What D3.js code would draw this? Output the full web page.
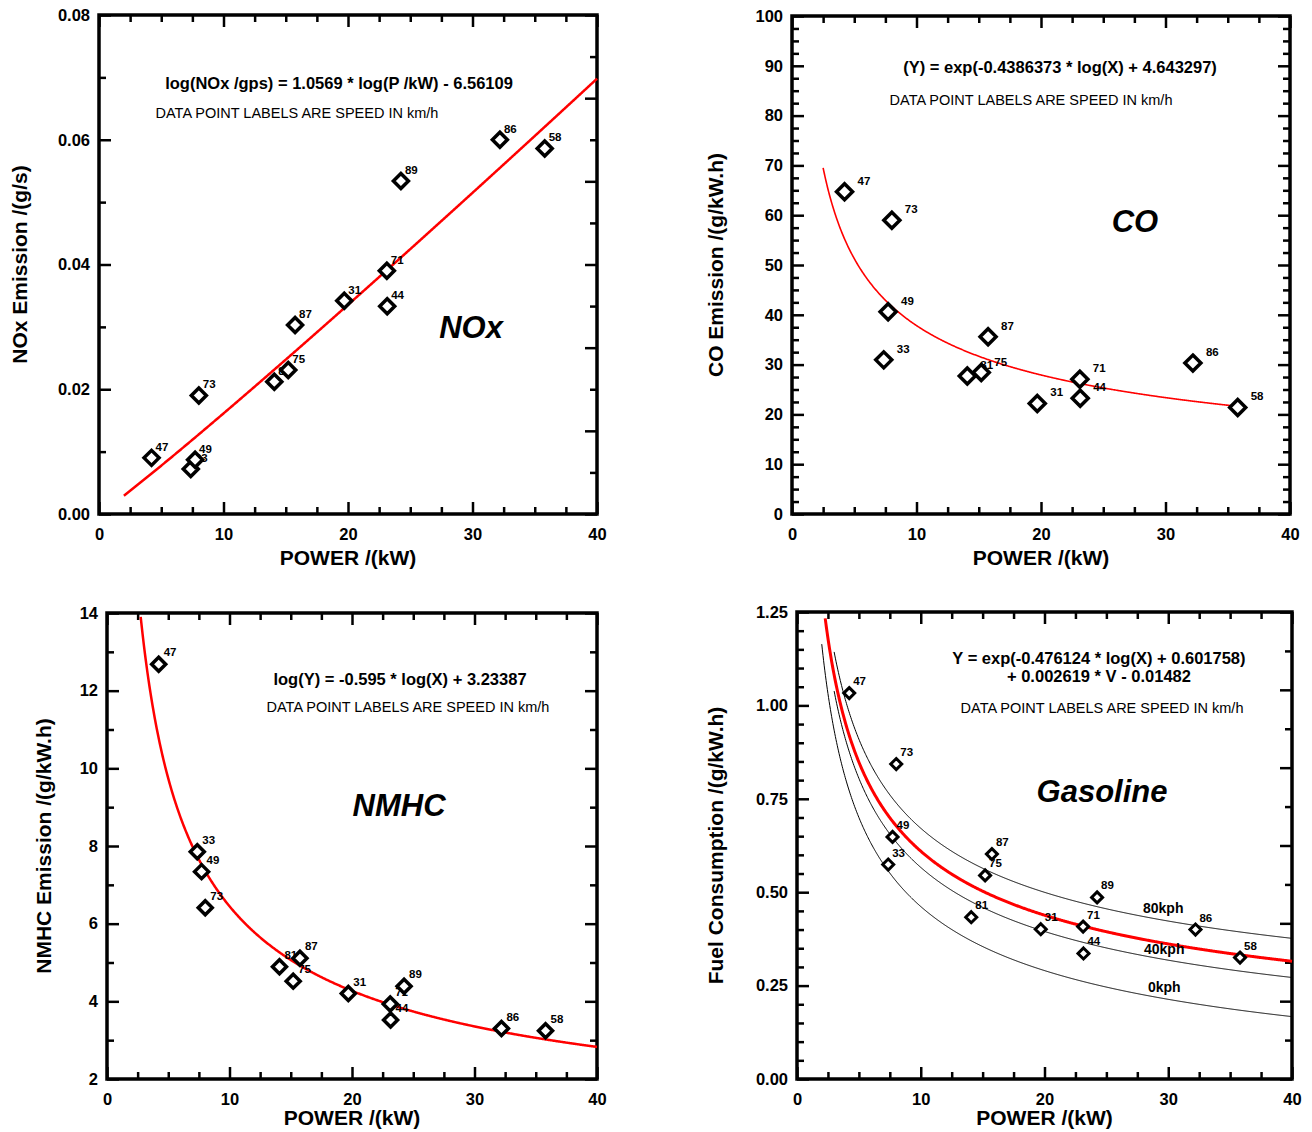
<!DOCTYPE html>
<html><head><meta charset="utf-8">
<script src="https://cdn.jsdelivr.net/npm/d3@7"></script>
<style>
body{margin:0;background:#fff;}
svg{display:block;}
text{font-family:"Liberation Sans",Arial,Helvetica,sans-serif;fill:#000;}
</style>
</head><body>
<svg id="chart" width="1312" height="1132"></svg>
<script>
// ---------- DATA ----------
const speeds = ["47","33","49","73","81","75","87","31","71","44","89","86","58"];
const power  = [4.22, 7.37, 7.72, 8.02, 14.08, 15.2, 15.75, 19.7, 23.12, 23.15, 24.25, 32.2, 35.8];
const noxValues  = [0.0090, 0.0072, 0.0087, 0.0190, 0.0212, 0.0231, 0.0303, 0.0342, 0.0390, 0.0333, 0.0534, 0.0600, 0.0586];
const coValues   = [64.7, 30.95, 40.6, 59.0, 27.7, 28.4, 35.6, 22.2, 27.07, 23.26, null, 30.3, 21.4];
const nmhcValues = [12.68, 7.85, 7.34, 6.41, 4.89, 4.52, 5.11, 4.20, 3.93, 3.52, 4.39, 3.30, 3.24];
const fuelValues = [1.033, 0.574, 0.648, 0.843, 0.433, 0.545, 0.602, 0.401, 0.408, 0.336, 0.486, 0.400, 0.325];

// fitted-equation coefficients (as printed on each panel)
const noxFit  = {slope: 1.0569,    icept: -6.56109, from: 2.0,  to: 40};
const coFit   = {slope: -0.4386373, icept: 4.643297, from: 2.5,  to: 35.8};
const nmhcFit = {slope: -0.595,    icept: 3.23387,  from: 2.75, to: 40};
const fuelFit = {slope: -0.476124, icept: 0.601758, from: 2.28, to: 40, vCoef: 0.002619, offset: 0.1482};
const fuelSpeedCurves = [ {v: 0, from: 2.0, label: "0kph"}, {v: 40, from: 3.0, label: "40kph"}, {v: 80, from: 3.0, label: "80kph"} ];

// tick labels
const xTicks    = [0, 10, 20, 30, 40];
const noxTicks  = [0, 0.02, 0.04, 0.06, 0.08];
const coTicks   = [0, 10, 20, 30, 40, 50, 60, 70, 80, 90, 100];
const nmhcTicks = [2, 4, 6, 8, 10, 12, 14];
const fuelTicks = [0, 0.25, 0.5, 0.75, 1.0, 1.25];

const svg = d3.select("#chart");
const FONT = '"Liberation Sans",Arial,Helvetica,sans-serif';

function panel(cfg) {
  const g = svg.append("g");
  const x = d3.scaleLinear().domain([0, 40]).range([cfg.left, cfg.right]);
  const y = d3.scaleLinear().domain(cfg.yDomain).range([cfg.bottom, cfg.top]);
  const yMin = cfg.yDomain[0], yMax = cfg.yDomain[1];

  const styleTicks = sel => {
    sel.select(".domain").remove();
    sel.selectAll(".tick line").attr("stroke", "#000").attr("stroke-width", 2.5);
    sel.selectAll(".tick text").attr("font-size", 16.5).attr("font-weight", "bold").attr("font-family", FONT).attr("fill", "#000");
  };

  // x ticks (bottom & top)
  const xMinor = d3.range(0, 40.001, 2.5).filter(v => v % 10 !== 0);
  g.append("g").attr("transform", `translate(0,${cfg.bottom})`)
    .call(d3.axisBottom(x).tickValues(xMinor).tickSize(-7).tickFormat("")).call(styleTicks);
  g.append("g").attr("transform", `translate(0,${cfg.bottom})`)
    .call(d3.axisBottom(x).tickValues(xTicks).tickSize(-12).tickPadding(14).tickFormat(d3.format("d"))).call(styleTicks);
  g.append("g").attr("transform", `translate(0,${cfg.top})`)
    .call(d3.axisTop(x).tickValues(xMinor).tickSize(-7).tickFormat("")).call(styleTicks);
  g.append("g").attr("transform", `translate(0,${cfg.top})`)
    .call(d3.axisTop(x).tickValues(xTicks).tickSize(-12).tickFormat("")).call(styleTicks);

  // left y ticks
  const yMinorL = d3.range(yMin, yMax + 1e-9, cfg.yMinorStep).filter(v => !cfg.yTicks.some(t => Math.abs(t - v) < 1e-9));
  g.append("g").attr("transform", `translate(${cfg.left},0)`)
    .call(d3.axisLeft(y).tickValues(yMinorL).tickSize(-7).tickFormat("")).call(styleTicks);
  g.append("g").attr("transform", `translate(${cfg.left},0)`)
    .call(d3.axisLeft(y).tickValues(cfg.yTicks).tickSize(-12).tickPadding(9).tickFormat(d3.format(cfg.yFormat))).call(styleTicks);

  // right y ticks
  let rMajor, rMinor;
  if (cfg.rightDivisions) {
    const step = (yMax - yMin) / cfg.rightDivisions;
    const all = d3.range(0, cfg.rightDivisions + 1).map(i => yMin + i * step);
    rMajor = all.filter((v, i) => i % 2 === 0);
    rMinor = all.filter((v, i) => i % 2 === 1);
  } else { rMajor = cfg.yTicks; rMinor = yMinorL; }
  g.append("g").attr("transform", `translate(${cfg.right},0)`)
    .call(d3.axisRight(y).tickValues(rMinor).tickSize(-7).tickFormat("")).call(styleTicks);
  g.append("g").attr("transform", `translate(${cfg.right},0)`)
    .call(d3.axisRight(y).tickValues(rMajor).tickSize(-12).tickFormat("")).call(styleTicks);

  // frame
  g.append("rect").attr("x", cfg.left).attr("y", cfg.top)
    .attr("width", cfg.right - cfg.left).attr("height", cfg.bottom - cfg.top)
    .attr("fill", "none").attr("stroke", "#000").attr("stroke-width", 3.5);

  // axis titles
  g.append("text").attr("x", (cfg.left + cfg.right) / 2).attr("y", cfg.bottom + cfg.xTitleOffset)
    .attr("text-anchor", "middle").attr("font-size", 21).attr("font-weight", "bold").text("POWER /(kW)");
  g.append("text").attr("transform", `translate(${cfg.left - cfg.yTitleOffset},${(cfg.top + cfg.bottom) / 2}) rotate(-90)`)
    .attr("text-anchor", "middle").attr("font-size", 21).attr("font-weight", "bold").text(cfg.yTitle);

  // curves
  const line = d3.line().x(d => x(d[0])).y(d => y(d[1]));
  (cfg.curves || []).forEach(c => {
    g.append("path").datum(c.points).attr("fill", "none").attr("stroke", c.color)
      .attr("stroke-width", c.width).attr("d", line);
  });

  // text annotations (positioned in data coordinates)
  (cfg.notes || []).forEach(n => {
    g.append("text").attr("x", x(n.x)).attr("y", y(n.y))
      .attr("text-anchor", n.anchor || "middle").attr("font-size", n.size)
      .attr("font-weight", n.weight || "normal").attr("font-style", n.style || "normal").text(n.text);
  });

  // point labels then diamonds
  const pts = power.map((p, i) => ({p, v: cfg.values[i], s: speeds[i]})).filter(d => d.v != null);
  g.selectAll(".plabel").data(pts).enter().append("text")
    .attr("x", d => x(d.p) + cfg.labelDx).attr("y", d => y(d.v) + cfg.labelDy)
    .attr("font-size", 11.5).attr("font-weight", "bold").text(d => d.s);
  const r = cfg.markerR;
  g.selectAll(".pt").data(pts).enter().append("path")
    .attr("d", `M0,${-r}L${r},0L0,${r}L${-r},0Z`)
    .attr("transform", d => `translate(${x(d.p)},${y(d.v)})`)
    .attr("fill", "#fff").attr("stroke", "#000").attr("stroke-width", cfg.markerW)
    .attr("stroke-linejoin", "miter");
}

const sample = (fit, fn) => d3.range(fit.from, fit.to + 1e-9, 0.05).concat([fit.to]).map(p => [p, fn(p)]);
const expFit = fit => p => Math.exp(fit.slope * Math.log(p) + fit.icept);

// NOx
panel({
  left: 99, right: 597, top: 15, bottom: 514, yDomain: [0, 0.08], yTicks: noxTicks, yMinorStep: 0.01,
  yFormat: ".2f", rightDivisions: 12, yTitle: "NOx Emission /(g/s)", yTitleOffset: 72, xTitleOffset: 51,
  values: noxValues, labelDx: 4, labelDy: -7, markerR: 7.5, markerW: 3.5,
  curves: [{points: sample(noxFit, expFit(noxFit)), color: "#f00", width: 2.5}],
  notes: [
    {x: 19.28, y: 0.0681, text: "log(NOx /gps) = 1.0569 * log(P /kW)  - 6.56109", size: 16.5, weight: "bold"},
    {x: 15.9, y: 0.0635, text: "DATA POINT LABELS ARE SPEED IN km/h", size: 14.5},
    {x: 29.88, y: 0.0282, text: "NOx", size: 31, weight: "bold", style: "italic"}
  ]
});

// CO
panel({
  left: 792, right: 1290, top: 16, bottom: 514, yDomain: [0, 100], yTicks: coTicks, yMinorStep: 2.5,
  yFormat: "d", rightDivisions: null, yTitle: "CO Emission /(g/kW.h)", yTitleOffset: 69, xTitleOffset: 51,
  values: coValues, labelDx: 13, labelDy: -7, markerR: 8, markerW: 3.5,
  curves: [{points: sample(coFit, expFit(coFit)), color: "#f00", width: 1.6}],
  notes: [
    {x: 21.53, y: 88.55, text: "(Y) = exp(-0.4386373 * log(X) + 4.643297)", size: 16.5, weight: "bold"},
    {x: 19.2, y: 82.13, text: "DATA POINT LABELS ARE SPEED IN km/h", size: 14.5},
    {x: 27.55, y: 56.6, text: "CO", size: 31, weight: "bold", style: "italic"}
  ]
});

// NMHC
panel({
  left: 107, right: 597, top: 613, bottom: 1079, yDomain: [2, 14], yTicks: nmhcTicks, yMinorStep: 1,
  yFormat: "d", rightDivisions: null, yTitle: "NMHC Emission /(g/kW.h)", yTitleOffset: 56, xTitleOffset: 46,
  values: nmhcValues, labelDx: 5, labelDy: -8, markerR: 7, markerW: 3.5,
  curves: [{points: sample(nmhcFit, expFit(nmhcFit)), color: "#f00", width: 2.5}],
  notes: [
    {x: 23.92, y: 12.15, text: "log(Y) = -0.595 * log(X) + 3.23387", size: 16.5, weight: "bold"},
    {x: 24.57, y: 11.45, text: "DATA POINT LABELS ARE SPEED IN km/h", size: 14.5},
    {x: 23.84, y: 8.77, text: "NMHC", size: 31, weight: "bold", style: "italic"}
  ]
});

// Gasoline
const fuelBase = expFit(fuelFit);
panel({
  left: 797, right: 1292, top: 612, bottom: 1079, yDomain: [0, 1.25], yTicks: fuelTicks, yMinorStep: 0.05,
  yFormat: ".2f", rightDivisions: 12, yTitle: "Fuel Consumption /(g/kW.h)", yTitleOffset: 74, xTitleOffset: 46,
  values: fuelValues, labelDx: 4, labelDy: -8, markerR: 5.5, markerW: 3,
  curves: fuelSpeedCurves.map(c => ({
      points: sample({from: c.from, to: 40}, p => fuelBase(p) + fuelFit.vCoef * c.v - fuelFit.offset),
      color: "#000", width: 1}))
    .concat([{points: sample(fuelFit, fuelBase), color: "#f00", width: 3}]),
  notes: [
    {x: 24.4, y: 1.111, text: "Y = exp(-0.476124 * log(X) + 0.601758)", size: 16.5, weight: "bold"},
    {x: 24.4, y: 1.063, text: "+ 0.002619 * V - 0.01482", size: 16.5, weight: "bold"},
    {x: 24.65, y: 0.980, text: "DATA POINT LABELS ARE SPEED IN km/h", size: 14.5},
    {x: 24.65, y: 0.741, text: "Gasoline", size: 31, weight: "bold", style: "italic"},
    {x: 27.96, y: 0.444, text: "80kph", size: 14, weight: "bold", anchor: "start"},
    {x: 28.04, y: 0.335, text: "40kph", size: 14, weight: "bold", anchor: "start"},
    {x: 28.36, y: 0.233, text: "0kph", size: 14, weight: "bold", anchor: "start"}
  ]
});
</script>
</body></html>
